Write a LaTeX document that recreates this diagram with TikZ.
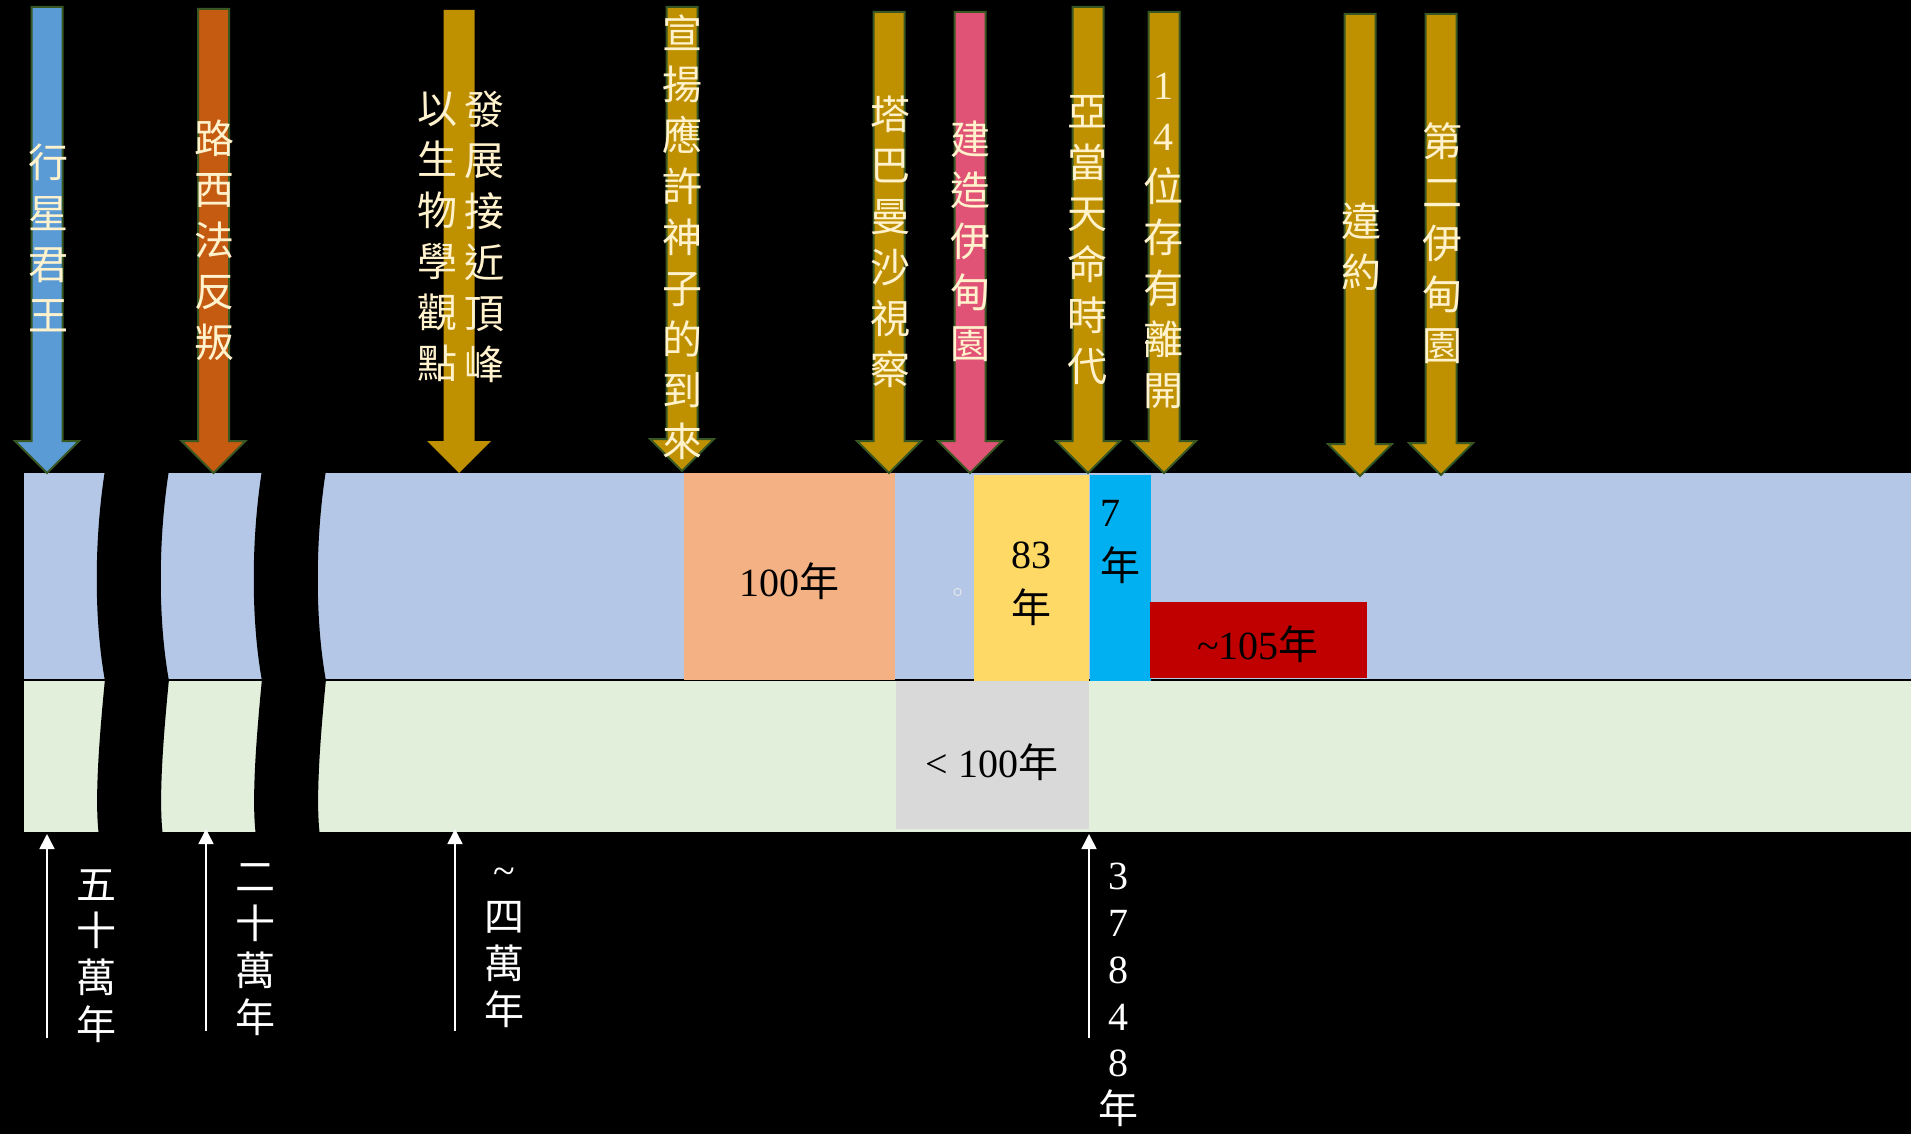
\documentclass[tikz,border=0pt]{standalone}
\usepackage{fontspec}
\setmainfont{Liberation Serif}
\newfontfamily\cjk{Noto Sans CJK TC}
\usetikzlibrary{arrows.meta}
\definecolor{bandblue}{HTML}{B4C7E7}
\definecolor{bandgreen}{HTML}{E2EFDA}
\definecolor{peach}{HTML}{F4B183}
\definecolor{sand}{HTML}{FFD966}
\definecolor{sky}{HTML}{00B0F0}
\definecolor{deepred}{HTML}{C00000}
\definecolor{paleg}{HTML}{D9D9D9}
\definecolor{arblue}{HTML}{5B9BD5}
\definecolor{arorange}{HTML}{C55A11}
\definecolor{argold}{HTML}{BF9000}
\definecolor{arpink}{HTML}{E05276}
\definecolor{frame}{HTML}{385723}
\definecolor{cream}{HTML}{FFF2CC}
\begin{document}
\begin{tikzpicture}[x=0.5pt,y=-0.5pt,
    vlabel/.style={font=\cjk\fontsize{20}{25.5}\selectfont, text=cream, align=center, inner sep=0pt},
    tlabel/.style={font=\cjk\fontsize{20}{23.4}\selectfont, text=white, align=center, inner sep=0pt},
    blabel/.style={font=\fontsize{20}{27}\selectfont, text=black, align=center, inner sep=0pt},
    uparr/.style={white, line width=0.8pt, -{Triangle[width=7.5pt,length=7.5pt]}}]
  % background
  \fill[black] (0,0) rectangle (1911,1134);
  \useasboundingbox (0,0) rectangle (1911,1134);
  % bands
  \fill[bandblue] (23.7,473) rectangle (1911,680);
  \fill[bandgreen] (23.7,680) rectangle (1911,832);
  \draw[black, line width=1pt] (23.7,680) -- (1911,680);
  % periods
  \fill[peach] (683.5,473) rectangle (895,680);
  \fill[sand] (974,475) rectangle (1089,681);
  \fill[sky] (1090,475) rectangle (1151,681);
  \fill[deepred] (1150,602) rectangle (1367,678);
  \fill[paleg] (896,681) rectangle (1089,829);
  \draw[white!85!gray, line width=0.4pt] (957.6,592) circle [radius=1.8pt];
  % breaks
  \foreach \bx in {105,262} {
    \fill[black] (\bx,470) .. controls (\bx-11,540) and (\bx-11,620) .. (\bx,681) -- (\bx+64,681) .. controls (\bx+53,620) and (\bx+53,540) .. (\bx+64,470) -- cycle;
    \fill[black] (\bx,679) .. controls (\bx-5,730) and (\bx-11,800) .. (\bx-6,836) -- (\bx+58,836) .. controls (\bx+53,800) and (\bx+59,730) .. (\bx+64,679) -- cycle;
  }
  % events
  \foreach \x/\t/\e/\c/\o in {47/7/473/arblue/frame, 213.5/9/473/arorange/frame, 459/10/473/argold/none,
      682/7/471/argold/frame, 889/12/473/argold/frame, 970/12/473/arpink/frame, 1088/7/473/argold/frame,
      1164/12/473/argold/frame, 1360/14/476/argold/frame, 1441/14/475/argold/frame}
    \filldraw[fill=\c, draw=\o, line width=1pt] (\x-15.5,\t) -- (\x+15.5,\t) -- (\x+15.5,\e-32) -- (\x+32,\e-32)
      -- (\x,\e) -- (\x-32,\e-32) -- (\x-15.5,\e-32) -- cycle;
  \node[vlabel] (king) at (48,237.5) {行\\星\\君\\王};
  \node[vlabel] (rebel) at (214,240) {路\\西\\法\\反\\叛};
  \node[vlabel] (bio) at (437.5,237) {以\\生\\物\\學\\觀\\點};
  \node[vlabel] (peak) at (484,237) {發\\展\\接\\近\\頂\\峰};
  \node[vlabel] (son) at (682.6,237.5) {宣\\揚\\應\\許\\神\\子\\的\\到\\來};
  \node[vlabel] (visit) at (890,241.5) {塔\\巴\\曼\\沙\\視\\察};
  \node[vlabel] (eden) at (970.5,241.5) {建\\造\\伊\\甸\\園};
  \node[vlabel] (adam) at (1087.5,240) {亞\\當\\天\\命\\時\\代};
  \node[vlabel] (leave) at (1163,241) {{\rmfamily 1}\\{\rmfamily 4}\\位\\存\\有\\離\\開};
  \node[vlabel] (fault) at (1361,246.5) {違\\約};
  \node[vlabel] (eden2) at (1442.6,243.5) {第\\二\\伊\\甸\\園};
  % durations
  \node[blabel] (p100) at (789,581) {100{\cjk 年}};
  \node[blabel] (p83) at (1031,584) {83\\{\cjk 年}};
  \node[blabel, align=left] (p7) at (1120,542) {7\\{\cjk 年}};
  \node[blabel] (p105) at (1258,644) {\textasciitilde105{\cjk 年}};
  \node[blabel] (plt) at (992,762) {\textless\ 100{\cjk 年}};
  % time marks
  \coordinate (t500) at (47,1038);  \coordinate (h500) at (47,834);
  \coordinate (t200) at (206,1031); \coordinate (h200) at (206,829);
  \coordinate (t40) at (455,1031);  \coordinate (h40) at (455,829);
  \coordinate (tnow) at (1089,1038); \coordinate (hnow) at (1089,834);
  \draw[uparr] (t500) -- (h500);
  \draw[uparr] (t200) -- (h200);
  \draw[uparr] (t40) -- (h40);
  \draw[uparr] (tnow) -- (hnow);
  \node[tlabel] (y500) at (96,956) {五\\十\\萬\\年};
  \node[tlabel] (y200) at (255,949.5) {二\\十\\萬\\年};
  \node[tlabel] (y40) at (504,948) {{\rmfamily\textasciitilde}\\四\\萬\\年};
  \node[tlabel] (ynow) at (1118,995) {{\rmfamily 3}\\{\rmfamily 7}\\{\rmfamily 8}\\{\rmfamily 4}\\{\rmfamily 8}\\年};
\end{tikzpicture}
\end{document}
